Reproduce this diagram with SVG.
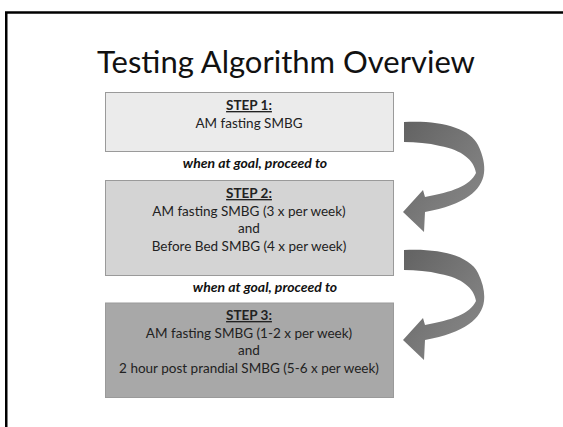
<svg xmlns="http://www.w3.org/2000/svg" width="563" height="427" viewBox="0 0 563 427">
  <style>
    .title { font-family: Lato, "Open Sans", "Liberation Sans", sans-serif; font-size: 31px; fill: #111; }
    .txt { font-family: Lato, "Open Sans", "Liberation Sans", sans-serif; font-size: 13.5px; fill: #222; text-anchor: middle; }
    .step { font-weight: bold; text-decoration: underline; }
    .goal { font-family: Lato, "Open Sans", "Liberation Sans", sans-serif; font-size: 14px; font-weight: bold; font-style: italic; fill: #111; text-anchor: middle; }
    .box { stroke: #9a9a9a; stroke-width: 1; }
    .arrow { fill: url(#arrowShade); }
  </style>
  <defs>
    <linearGradient id="arrowShade" x1="0" y1="0" x2="1" y2="1">
      <stop offset="0" stop-color="#626262"/>
      <stop offset="0.6" stop-color="#7c7c7c"/>
      <stop offset="1" stop-color="#8a8a8a"/>
    </linearGradient>
    <path id="curvedArrow" d="M 404 122 C 440 120 470 128 478 145 C 483 155 485 165 484 173 C 482 190 465 205 425 212 L 424 232 L 403 212 L 423 190 L 425 197 C 452 192 470 186 476 173 C 474 160 462 150 440 146 C 428 143 416 142 404 142 Z"/>
  </defs>

  <!-- slide frame -->
  <path d="M 6.25 427 V 12.5 H 563" fill="none" stroke="#000" stroke-width="2.5"/>

  <text class="title" x="286" y="73" text-anchor="middle">Testing Algorithm Overview</text>

  <g id="step1">
    <rect class="box" x="105.5" y="92.5" width="288" height="59" fill="#ebebeb"/>
    <text class="txt step" x="249" y="110">STEP 1:</text>
    <text class="txt" x="249" y="127.5">AM fasting SMBG</text>
  </g>

  <g id="step2">
    <rect class="box" x="105.5" y="180.5" width="288" height="95" fill="#d4d4d4"/>
    <text class="txt step" x="249" y="198">STEP 2:</text>
    <text class="txt" x="249" y="215.5">AM fasting SMBG (3 x per week)</text>
    <text class="txt" x="249" y="233">and</text>
    <text class="txt" x="249" y="250.5">Before Bed SMBG (4 x per week)</text>
  </g>

  <g id="step3">
    <rect class="box" x="105.5" y="303" width="288" height="94.5" fill="#a8a8a8"/>
    <text class="txt step" x="249" y="320">STEP 3:</text>
    <text class="txt" x="249" y="337.5">AM fasting SMBG (1-2 x per week)</text>
    <text class="txt" x="249" y="355">and</text>
    <text class="txt" x="249" y="372.5">2 hour post prandial SMBG (5-6 x per week)</text>
  </g>

  <g id="connectors">
    <text class="goal" x="255" y="168">when at goal, proceed to</text>
    <text class="goal" x="265" y="291.5">when at goal, proceed to</text>
    <use class="arrow" href="#curvedArrow"/>
    <use class="arrow" href="#curvedArrow" transform="translate(0,128)"/>
  </g>
</svg>
